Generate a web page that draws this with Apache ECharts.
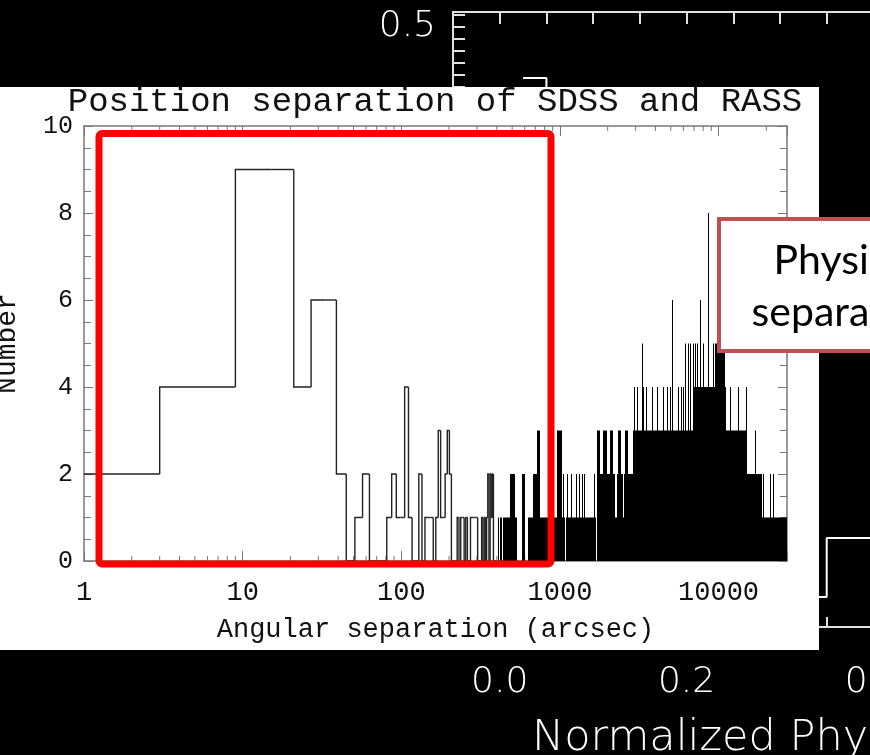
<!DOCTYPE html>
<html>
<head>
<meta charset="utf-8">
<script src="https://cdn.jsdelivr.net/npm/echarts@6/dist/echarts.min.js"></script>
<style>
html, body { margin: 0; padding: 0; background: #000; }
#chart { width: 870px; height: 755px; }
</style>
</head>
<body>
<div id="chart"></div>
<script>
// ---- background plot (normalized physical separation), mostly hidden ----
var bgCentres = [0.025, 0.075, 0.125, 0.175, 0.225, 0.275, 0.325, 0.375, 0.425, 0.475];
var bgValues  = [0.457, 0.21, 0.12, 0.07, 0.045, 0.03, 0.025, 0.074, 0.047, 0.04];

// ---- front plot: position separation of SDSS and RASS ----
// 6 arcsec bins, centres 0, 6, 12, ... 396 (counts read off the steps)
var binWidth = 6;
var histCounts = [
  2, 4, 9, 9, 4, 6, 6, 2, 0, 1,
  2, 0, 0, 0, 1, 2, 1, 1, 4, 1,
  0, 0, 2, 0, 1, 1, 1, 0, 1, 3,
  1, 1, 2, 3, 2, 0, 0, 0, 1, 0,
  1, 1, 0, 1, 0, 0, 1, 1, 1, 1,
  1, 0, 0, 0, 1, 0, 1, 0, 1, 2,
  0, 2, 1, 2, 0, 0, 0
];
// beyond 400 arcsec the bins are narrower than a pixel: columns [from, to, top count]
var denseCols = [
  [406, 412, 1], [418, 430, 1], [437, 483, 1], [483, 520, 2], [520, 535, 1],
  [575, 601, 2], [628, 675, 1], [675, 715, 2], [715, 747, 3], [747, 1074, 1],
  [956, 1028, 3], [970, 970, 2], [1040, 1040, 2],
  [1089, 1684, 1], [1105, 1105, 2], [1171, 1171, 2], [1260, 1260, 2], [1316, 1316, 2],
  [1374, 1374, 2], [1415, 1415, 2], [1636, 1636, 2],
  [1708, 2218, 2], [2218, 2283, 1], [2283, 2491, 2], [2491, 2527, 1], [2527, 2880, 2],
  [1708, 1790, 3], [1863, 1975, 3], [2063, 2154, 3], [2317, 2420, 3], [2564, 2678, 3],
  [2880, 3097, 3], [2922, 2922, 4], [3052, 3052, 4],
  [3097, 6877, 3], [3281, 3281, 5], [3329, 3329, 4], [3500, 3500, 4], [3794, 3794, 4],
  [4079, 4079, 4], [4450, 4450, 4], [4700, 4700, 4], [4927, 4927, 4], [5100, 5144, 6],
  [5534, 5534, 4], [5800, 5800, 4], [6000, 6000, 4], [6124, 6124, 5], [6400, 6400, 5],
  [6583, 6583, 5],
  [6877, 8185, 4], [6877, 6877, 5], [7100, 7100, 5], [7288, 7288, 5], [7612, 7612, 6],
  [8000, 8000, 5], [8551, 8551, 8],
  [8185, 9464, 4], [9194, 9194, 5], [9464, 10940, 5],
  [10940, 11430, 3], [11000, 11000, 4],
  [11430, 15060, 3], [11760, 11760, 4], [13210, 13210, 4], [14840, 14840, 4],
  [15060, 18720, 2], [16910, 16910, 3],
  [18720, 27000, 1], [18990, 18990, 2], [21020, 21020, 2], [21950, 21950, 2]
];
var decades = [1, 10, 100, 1000, 10000];
var minorSteps = [2, 3, 4, 5, 6, 7, 8, 9];
var xMax = 27000;

// one step per bin: [left edge, right edge, count, previous count]
var histSteps = histCounts.map(function (c, k) {
  var lo = k === 0 ? 1 : k * binWidth - binWidth / 2;
  var hi = k * binWidth + binWidth / 2;
  return [lo, hi, c, k === 0 ? c : histCounts[k - 1]];
});
var minorTicks = [];
decades.forEach(function (d) {
  minorSteps.forEach(function (m) {
    if (d * m < xMax) minorTicks.push([d * m, 0]);
  });
});
var bgData = bgCentres.map(function (c, i) { return [c, bgValues[i]]; });

var serif = 'Liberation Mono';
var ink = '#111';
var frame = '#777';

function logLabel(v) {
  var l = Math.log10(v);
  return Math.abs(l - Math.round(l)) < 1e-6 ? String(Math.round(v)) : '';
}

var chart = echarts.init(document.getElementById('chart'));
chart.setOption({
  backgroundColor: '#000',
  animation: false,
  title: [{
    text: 'Position separation of SDSS and RASS',
    left: 'center', top: 80, z: 10,
    textStyle: { fontFamily: serif, fontSize: 34, fontWeight: 'normal', color: ink }
  }, {
    text: 'Normalized Physical separation',
    left: 527, top: 712, z: 1,
    textStyle: { fontFamily: 'DejaVu Sans', fontSize: 43, fontWeight: 200, color: '#fff' }
  }],
  grid: [
    { left: 453, top: 12, width: 981, height: 615, outerBoundsMode: 'none', containLabel: false },
    { left: 84, top: 126, width: 703, height: 435, outerBoundsMode: 'none', containLabel: false }
  ],
  xAxis: [{
    gridIndex: 0, type: 'value', min: -0.05, max: 1.0, interval: 0.05, z: 0,
    axisLine: { onZero: false, lineStyle: { color: '#e0e0e0', width: 2 } },
    axisTick: { inside: true, length: 10, lineStyle: { color: '#e0e0e0', width: 2 } },
    axisLabel: {
      color: '#fff', fontFamily: 'DejaVu Sans', fontWeight: 200, fontSize: 36, margin: 38,
      showMinLabel: false, showMaxLabel: false, hideOverlap: false,
      formatter: function (v) {
        return Math.abs(v / 0.2 - Math.round(v / 0.2)) < 1e-6 ? v.toFixed(1) : '';
      }
    },
    splitLine: { show: false }
  }, {
    gridIndex: 0, type: 'value', position: 'top', min: -0.05, max: 1.0, interval: 0.05, z: 0,
    axisLine: { onZero: false, lineStyle: { color: '#e0e0e0', width: 2 } },
    axisTick: { inside: true, length: 12, lineStyle: { color: '#e0e0e0', width: 2 } },
    axisLabel: { show: false },
    splitLine: { show: false }
  }, {
    gridIndex: 1, type: 'log', logBase: 10, min: 1, max: xMax, z: 10,
    axisLine: { onZero: false, lineStyle: { color: frame, width: 1.5 } },
    axisTick: { inside: true, length: 10, lineStyle: { color: frame } },
    axisLabel: { color: ink, fontFamily: serif, fontSize: 27, margin: 18, formatter: logLabel },
    name: 'Angular separation (arcsec)', nameLocation: 'middle', nameGap: 55,
    nameTextStyle: { color: ink, fontFamily: serif, fontSize: 27 },
    splitLine: { show: false }
  }, {
    gridIndex: 1, type: 'log', logBase: 10, min: 1, max: xMax, position: 'top', z: 10,
    axisLine: { onZero: false, lineStyle: { color: frame, width: 1.5 } },
    axisTick: { inside: true, length: 10, lineStyle: { color: frame } },
    axisLabel: { show: false },
    splitLine: { show: false }
  }],
  yAxis: [{
    gridIndex: 0, type: 'value', min: 0, max: 0.512, interval: 0.1, z: 0,
    axisLine: { onZero: false, lineStyle: { color: '#e0e0e0', width: 2 } },
    axisTick: { inside: true, length: 12, lineStyle: { color: '#e0e0e0', width: 2 } },
    minorTick: { show: true, splitNumber: 10, length: 12, lineStyle: { color: '#e0e0e0', width: 2 } },
    axisLabel: {
      color: '#fff', fontFamily: 'DejaVu Sans', fontWeight: 200, fontSize: 36, margin: 17,
      showMaxLabel: false,
      formatter: function (v) { return v.toFixed(1); }
    },
    splitLine: { show: false }, minorSplitLine: { show: false }
  }, {
    gridIndex: 1, type: 'value', min: 0, max: 10, interval: 2, z: 10,
    axisLine: { onZero: false, lineStyle: { color: frame, width: 1.5 } },
    axisTick: { inside: true, length: 9, lineStyle: { color: frame } },
    minorTick: { show: true, splitNumber: 4, length: 7, lineStyle: { color: frame } },
    axisLabel: { color: ink, fontFamily: serif, fontSize: 25, margin: 11 },
    name: 'Number', nameLocation: 'middle', nameGap: 62, nameRotate: 90,
    nameTextStyle: { color: ink, fontFamily: serif, fontSize: 28 },
    splitLine: { show: false }, minorSplitLine: { show: false }
  }, {
    gridIndex: 1, type: 'value', min: 0, max: 10, interval: 2, position: 'right', z: 10,
    axisLine: { onZero: false, lineStyle: { color: frame, width: 1.5 } },
    axisTick: { inside: true, length: 9, lineStyle: { color: frame } },
    minorTick: { show: true, splitNumber: 4, length: 7, lineStyle: { color: frame } },
    axisLabel: { show: false },
    splitLine: { show: false }, minorSplitLine: { show: false }
  }],
  series: [{
    // background histogram
    type: 'line', xAxisIndex: 0, yAxisIndex: 0, z: 1,
    step: 'middle', symbol: 'none', data: bgData,
    lineStyle: { color: '#fff', width: 2 }
  }, {
    // front histogram outline, one step per bin
    type: 'custom', xAxisIndex: 2, yAxisIndex: 1, z: 12,
    data: histSteps,
    encode: { x: [0, 1], y: 2 },
    renderItem: function (params, api) {
      var p0 = api.coord([api.value(0), api.value(3)]);
      var p1 = api.coord([api.value(0), api.value(2)]);
      var p2 = api.coord([api.value(1), api.value(2)]);
      return {
        type: 'polyline',
        shape: { points: [p0, p1, p2] },
        style: { stroke: '#222', lineWidth: 1.4, fill: null }
      };
    }
  }, {
    // dense part of the front histogram
    type: 'custom', xAxisIndex: 2, yAxisIndex: 1, z: 12,
    data: denseCols,
    encode: { x: [0, 1], y: 2 },
    renderItem: function (params, api) {
      var a = api.coord([api.value(0), api.value(2)]);
      var b = api.coord([api.value(1), 0]);
      var x0 = Math.round(a[0]);
      var w = Math.max(1, Math.round(b[0]) - x0);
      return {
        type: 'rect',
        shape: { x: x0, y: a[1], width: w, height: b[1] - a[1] },
        style: { fill: '#000' }
      };
    }
  }, {
    // minor log ticks on bottom and top frame
    type: 'custom', xAxisIndex: 2, yAxisIndex: 1, z: 11,
    data: minorTicks,
    renderItem: function (params, api) {
      var b = api.coord([api.value(0), 0]);
      var t = api.coord([api.value(0), 10]);
      var st = { stroke: frame, lineWidth: 1 };
      return {
        type: 'group',
        children: [
          { type: 'line', shape: { x1: b[0], y1: b[1], x2: b[0], y2: b[1] - 5 }, style: st },
          { type: 'line', shape: { x1: t[0], y1: t[1], x2: t[0], y2: t[1] + 5 }, style: st }
        ]
      };
    }
  }],
  graphic: [
    { type: 'rect', z: 3, shape: { x: 0, y: 87, width: 819, height: 563 }, style: { fill: '#fff' } },
    { type: 'rect', z: 20, shape: { x: 99, y: 133.5, width: 452, height: 430.5, r: 3 },
      style: { fill: null, stroke: '#ff0000', lineWidth: 7 } },
    { type: 'rect', z: 21, shape: { x: 719, y: 219, width: 200, height: 132 },
      style: { fill: '#fff', stroke: '#c0504d', lineWidth: 4 } },
    { type: 'text', z: 22, x: 846, y: 235,
      style: { text: 'Physical\nseparation', fontFamily: 'Lato', fontSize: 41, lineHeight: 52,
               fill: '#000', align: 'center', verticalAlign: 'top' } }
  ]
});
</script>
</body>
</html>
